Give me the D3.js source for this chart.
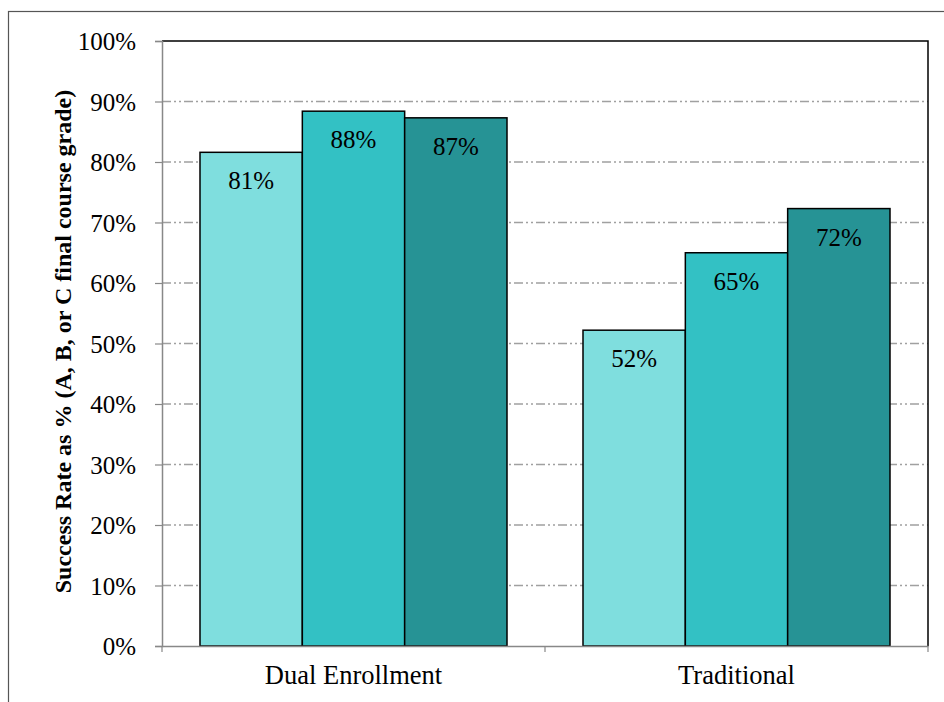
<!DOCTYPE html>
<html>
<head>
<meta charset="utf-8">
<script src="https://cdn.jsdelivr.net/npm/d3@7"></script>
<style>
  body{ margin:0; background:#fff; }
  svg text{ font-family:"Liberation Serif","Times New Roman",serif; fill:#000; }
</style>
</head>
<body>
<svg id="chart" width="944" height="702"></svg>
<script>
var categories = ["Dual Enrollment", "Traditional"];
var seriesNames = ["s1", "s2", "s3"];
var values = [
  [81.6, 88.4, 87.3],
  [52.2, 65.0, 72.3]
];
var labels = [
  ["81%", "88%", "87%"],
  ["52%", "65%", "72%"]
];
var yTicks = [0, 10, 20, 30, 40, 50, 60, 70, 80, 90, 100];
var colors = ["#7fdede", "#33c1c4", "#269395"];

var svg = d3.select("#chart");
var plotLeft = 162, plotRight = 928, plotTop = 41, plotBottom = 646;

// outer chart border (runs off the picture on right/bottom)
svg.append("rect")
  .attr("x", 8.5).attr("y", 11.5)
  .attr("width", 1000).attr("height", 1000)
  .attr("fill", "none").attr("stroke", "#555").attr("stroke-width", 1.2);

var y = d3.scaleLinear().domain([0, 100]).range([plotBottom, plotTop]);
var x0 = d3.scaleBand().domain(categories).range([plotLeft, plotRight]).paddingInner(0).paddingOuter(0);
var x1 = d3.scaleBand().domain(seriesNames).range([38, x0.bandwidth() - 38]).padding(0);

// gridlines
svg.append("g").selectAll("line")
  .data(yTicks.filter(function(d){ return d > 0 && d < 100; }))
  .enter().append("line")
  .attr("x1", plotLeft).attr("x2", plotRight)
  .attr("y1", function(d){ return y(d); }).attr("y2", function(d){ return y(d); })
  .attr("stroke", "#a0a0a0").attr("stroke-width", 1.5)
  .attr("stroke-dasharray", "9,3,2,3,2,3");

// top/right frame
svg.append("path")
  .attr("d", "M" + plotLeft + "," + plotTop + "H" + plotRight + "V" + plotBottom)
  .attr("fill", "none").attr("stroke", "#000").attr("stroke-width", 1.5);

// bars
var groups = svg.append("g").selectAll("g")
  .data(categories).enter().append("g")
  .attr("transform", function(d){ return "translate(" + x0(d) + ",0)"; });

groups.selectAll("rect")
  .data(function(d, i){ return values[i].map(function(v, j){ return {s: seriesNames[j], v: v, j: j}; }); })
  .enter().append("rect")
  .attr("x", function(d){ return x1(d.s); })
  .attr("y", function(d){ return y(d.v); })
  .attr("width", x1.bandwidth())
  .attr("height", function(d){ return plotBottom - y(d.v); })
  .attr("fill", function(d){ return colors[d.j]; })
  .attr("stroke", "#000").attr("stroke-width", 1.5);

groups.selectAll("text")
  .data(function(d, i){ return values[i].map(function(v, j){ return {s: seriesNames[j], v: v, lab: labels[i][j]}; }); })
  .enter().append("text")
  .attr("x", function(d){ return x1(d.s) + x1.bandwidth() / 2; })
  .attr("y", function(d){ return y(d.v) + 37; })
  .attr("text-anchor", "middle")
  .style("font-size", "25px")
  .text(function(d){ return d.lab; });

// y axis
var yAxis = svg.append("g")
  .attr("transform", "translate(" + plotLeft + ",0)")
  .call(d3.axisLeft(y).tickValues(yTicks).tickSize(7).tickPadding(19)
    .tickFormat(function(d){ return d + "%"; }));
yAxis.select(".domain").attr("stroke", "#888").attr("stroke-width", 1.5);
yAxis.selectAll(".tick line").attr("stroke", "#888").attr("stroke-width", 1.2);
yAxis.selectAll(".tick text").style("font-size", "25px")
  .style("font-family", "Liberation Serif, serif").attr("dy", "0.34em");

// x axis
var xAxis = svg.append("g")
  .attr("transform", "translate(0," + plotBottom + ")")
  .call(d3.axisBottom(x0).tickSize(0).tickPadding(0));
xAxis.select(".domain").attr("stroke", "#888").attr("stroke-width", 1.5);
xAxis.selectAll(".tick text").style("font-size", "26.5px")
  .style("font-family", "Liberation Serif, serif").attr("dy", null).attr("y", 38);
svg.append("g").selectAll("line")
  .data([plotLeft, x0(categories[1]), plotRight])
  .enter().append("line")
  .attr("x1", function(d){ return d; }).attr("x2", function(d){ return d; })
  .attr("y1", plotBottom).attr("y2", plotBottom + 6)
  .attr("stroke", "#888").attr("stroke-width", 1.2);

// y title
svg.append("text")
  .attr("transform", "translate(71," + ((plotTop + plotBottom) / 2 - 2) + ") rotate(-90)")
  .attr("text-anchor", "middle")
  .style("font-size", "24px").style("font-weight", "bold")
  .text("Success Rate as % (A, B, or C final course grade)");
</script>
</body>
</html>
